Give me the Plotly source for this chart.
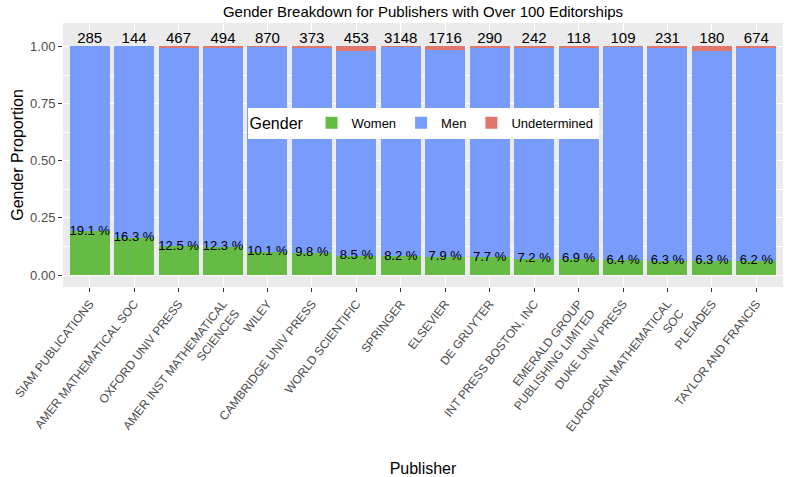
import plotly.graph_objects as go

publishers = [
    "SIAM PUBLICATIONS",
    "AMER MATHEMATICAL SOC",
    "OXFORD UNIV PRESS",
    "AMER INST MATHEMATICAL<br>SCIENCES",
    "WILEY",
    "CAMBRIDGE UNIV PRESS",
    "WORLD SCIENTIFIC",
    "SPRINGER",
    "ELSEVIER",
    "DE GRUYTER",
    "INT PRESS BOSTON, INC",
    "EMERALD GROUP<br>PUBLISHING LIMITED",
    "DUKE UNIV PRESS",
    "EUROPEAN MATHEMATICAL<br>SOC",
    "PLEIADES",
    "TAYLOR AND FRANCIS",
]
totals = [285, 144, 467, 494, 870, 373, 453, 3148, 1716, 290, 242, 118, 109, 231, 180, 674]
women = [0.191, 0.163, 0.125, 0.123, 0.101, 0.098, 0.085, 0.082, 0.079, 0.077, 0.072, 0.069, 0.064, 0.063, 0.063, 0.062]
undetermined = [0.0, 0.0, 0.004, 0.003, 0.002, 0.004, 0.022, 0.002, 0.014, 0.003, 0.003, 0.004, 0.002, 0.003, 0.022, 0.004]
men = [1 - w - u for w, u in zip(women, undetermined)]

pct_labels = ["%.1f %%" % (w * 100) for w in women]

FONT = "Liberation Sans, Arial, sans-serif"

fig = go.Figure()
fig.add_bar(x=publishers, y=women, name="Women", marker_color="#66BB44", marker_line_width=0)
fig.add_bar(x=publishers, y=men, name="Men", marker_color="#789CFC", marker_line_width=0)
fig.add_bar(x=publishers, y=undetermined, name="Undetermined", marker_color="#E0776C", marker_line_width=0)

fig.add_scatter(
    x=publishers, y=[1.0] * len(publishers), mode="text", text=[str(t) for t in totals],
    textposition="top center", textfont=dict(size=15, color="black", family=FONT),
    showlegend=False, hoverinfo="skip",
)
fig.add_scatter(
    x=publishers, y=women, mode="text", text=pct_labels,
    textposition="middle center", textfont=dict(size=13, color="black", family=FONT),
    showlegend=False, hoverinfo="skip",
)

fig.update_layout(
    width=786,
    height=477,
    barmode="stack",
    bargap=0.1,
    paper_bgcolor="white",
    plot_bgcolor="#EBEBEB",
    font=dict(family=FONT, color="black"),
    margin=dict(l=63, r=3, t=23, b=190),
    title=dict(
        text="Gender Breakdown for Publishers with Over 100 Editorships",
        x=0.5, xref="paper", xanchor="center", y=0.975, yanchor="middle",
        font=dict(size=15, color="black"),
    ),
    legend=dict(
        title=dict(text="Gender", font=dict(size=16)),
        orientation="h",
        traceorder="normal",
        x=0.5, xanchor="center",
        y=0.62, yanchor="middle",
        bgcolor="white",
        font=dict(size=13),
    ),
    xaxis=dict(
        title=dict(text="Publisher", font=dict(size=16), standoff=30),
        automargin=False,
        tickangle=-52,
        tickfont=dict(size=12, color="#4D4D4D"),
        showgrid=True, gridcolor="white", gridwidth=1.1,
        ticks="outside", ticklen=4, tickcolor="#333333",
        range=[-0.6, 15.6],
        zeroline=False,
    ),
    yaxis=dict(
        title=dict(text="Gender Proportion", font=dict(size=16), standoff=2),
        automargin=False,
        range=[-0.0525, 1.1025],
        tickvals=[0, 0.25, 0.5, 0.75, 1.0],
        ticktext=["0.00", "0.25", "0.50", "0.75", "1.00"],
        tickfont=dict(size=13, color="#4D4D4D"),
        showgrid=True, gridcolor="white", gridwidth=1.1,
        minor=dict(tickvals=[0.125, 0.375, 0.625, 0.875], showgrid=True, gridcolor="white", gridwidth=0.5, ticks=""),
        ticks="outside", ticklen=4, tickcolor="#333333",
        zeroline=False,
    ),
)

# drop the browser's default 8px body margin so the figure fills the window
fig.write_html(
    "out.html",
    config={"displayModeBar": False},
    post_script="document.body.style.margin = '0';",
)
